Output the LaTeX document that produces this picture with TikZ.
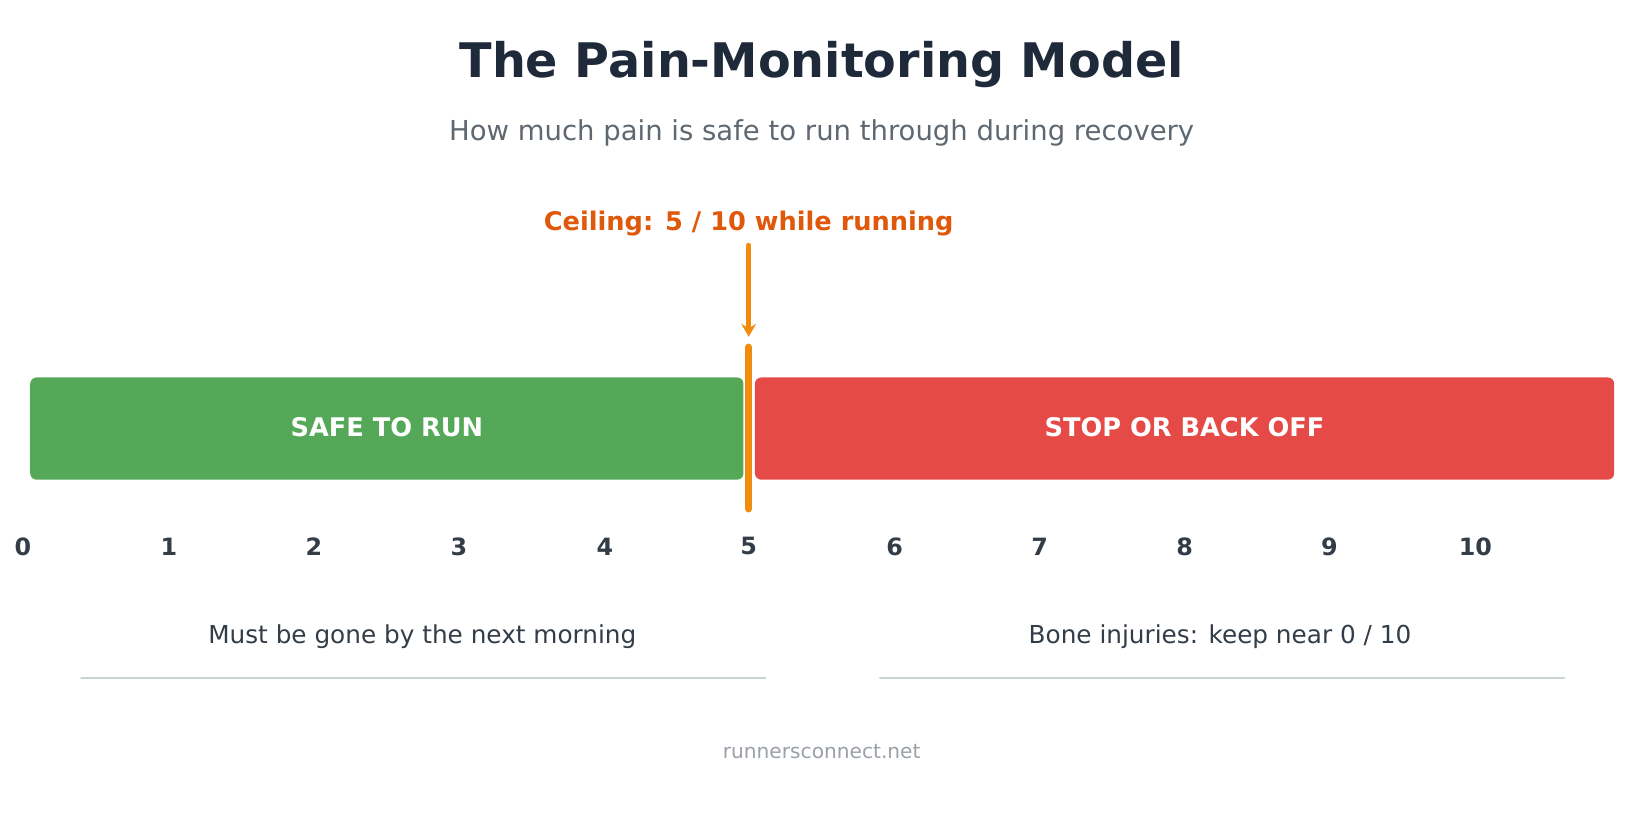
\documentclass[tikz,border=0pt]{standalone}
\usepackage{fontspec}
\setmainfont{DejaVu Sans}
\usetikzlibrary{arrows.meta}
\definecolor{titlec}{HTML}{1E2A3A}
\definecolor{subc}{HTML}{5F6870}
\definecolor{safec}{HTML}{55A858}
\definecolor{stopc}{HTML}{E64A47}
\definecolor{ceilc}{HTML}{F28C0F}
\definecolor{ceiltxt}{HTML}{E0580A}
\definecolor{numc}{HTML}{333D47}
\definecolor{rulec}{HTML}{CCD3D6}
\definecolor{footc}{HTML}{9AA0A6}
\tikzset{
  zone/.style={rounded corners=0.12cm, draw=none},
  zonelabel/.style={text=white, font=\fontsize{14}{16}\selectfont\bfseries},
  tick/.style={text=numc, font=\fontsize{13}{15}\selectfont\bfseries},
  note/.style={text=numc, font=\fontsize{13.5}{16}\selectfont},
}
\begin{document}
\begin{tikzpicture}[x=0.02cm, y=-0.02cm, line cap=round]
  \useasboundingbox (0,0) rectangle (1568,790);
  \node (title) at (788,62) {\textcolor{titlec}{\fontsize{26}{30}\selectfont\bfseries The Pain-Monitoring Model}};
  \node[text=subc, font=\fontsize{15}{18}\selectfont] (sub) at (788,127) {How much pain is safe to run through during recovery};
  % zones
  \fill[safec, zone] (29,362) rectangle (713,460);
  \node[zonelabel] (safe) at (371,410) {SAFE TO RUN};
  \fill[stopc, zone] (724,362) rectangle (1548,460);
  \node[zonelabel] (stop) at (1136,410) {STOP OR BACK OFF};
  % ceiling
  \node[text=ceiltxt, font=\fontsize{14}{16}\selectfont\bfseries] (ceil) at (718,214) {Ceiling: 5 / 10 while running};
  \coordinate (arrtop) at (718,235);
  \coordinate (arrtip) at (718,323);
  \draw[ceilc, line width=2.4pt, -{Stealth[length=7pt,width=8pt]}] (arrtop) -- (arrtip);
  \coordinate (ctop) at (718,333);
  \coordinate (cbot) at (718,488);
  \draw[ceilc, line width=4pt] (ctop) -- (cbot);
  % scale
  \foreach \n/\x in {0/22,1/162,2/301,3/440,4/580,5/718,6/858,7/997,8/1136,9/1275,10/1415}
    \node[tick] (n\n) at (\x,524) {\n};
  % notes
  \node[note] (lnote) at (405,611) {Must be gone by the next morning};
  \node[note] (rnote) at (1170,611) {Bone injuries: keep near 0 / 10};
  \draw[rulec, line width=1.3pt] (78,650) -- (734,650);
  \draw[rulec, line width=1.3pt] (844,650) -- (1500,650);
  \node[text=footc, font=\fontsize{11}{13}\selectfont] (foot) at (788,721) {runnersconnect.net};
\end{tikzpicture}
\end{document}
